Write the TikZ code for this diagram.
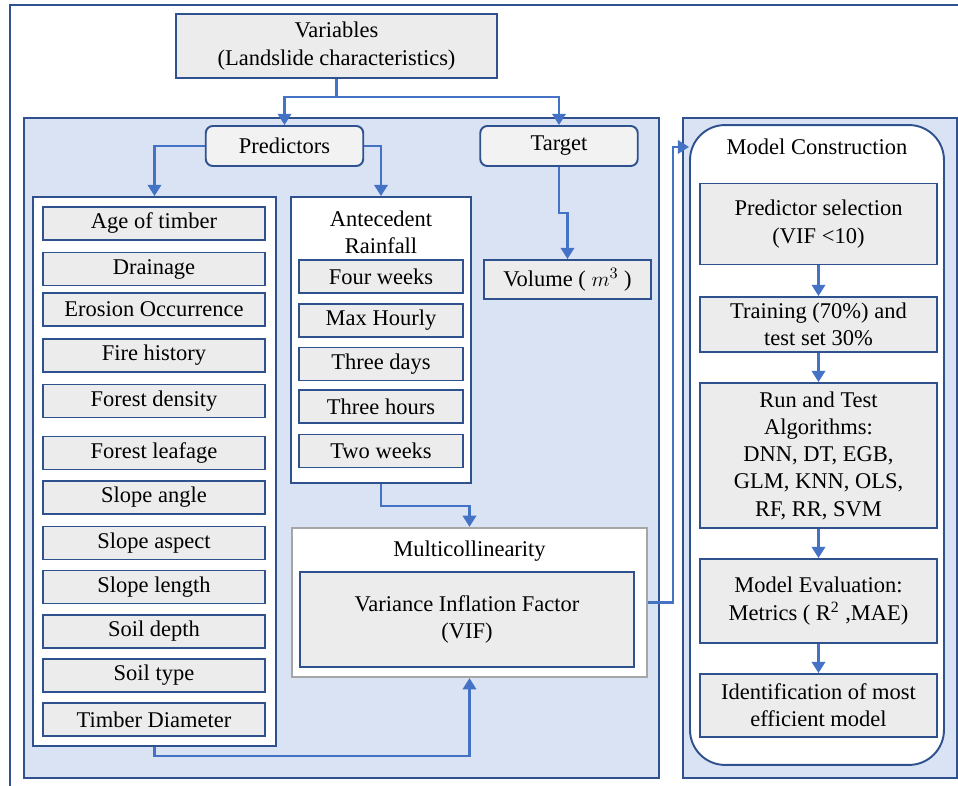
\documentclass[tikz,border=0pt]{standalone}
\usepackage{fontspec}
\setmainfont{Liberation Serif}
\usetikzlibrary{arrows.meta, positioning, calc}

\definecolor{boxblue}{RGB}{47,82,143}
\definecolor{arrowblue}{RGB}{68,114,196}
\definecolor{panelblue}{RGB}{218,227,243}
\definecolor{boxgray}{RGB}{236,236,236}
\definecolor{roundgray}{RGB}{242,242,242}
\definecolor{framegray}{RGB}{166,166,166}

\begin{document}
\begin{tikzpicture}[
    x=0.02cm, y=-0.02cm,
    font=\fontsize{12.8}{15.5}\selectfont,
    box/.style={rectangle, draw=boxblue, line width=1.1pt, fill=boxgray, align=center, inner sep=2pt},
    item/.style={box, minimum width=4.44cm, minimum height=0.66cm},
    rainitem/.style={box, minimum width=3.28cm, minimum height=0.66cm},
    stage/.style={box, minimum width=4.74cm},
    tag/.style={box, fill=roundgray, rounded corners=4pt, minimum width=3.15cm, minimum height=0.8cm},
    holder/.style={rectangle, draw=boxblue, line width=1.1pt, fill=white},
    panel/.style={draw=boxblue, line width=1.1pt, fill=panelblue},
    arrow/.style={-{Triangle[width=7.6pt,length=6.4pt]}, draw=arrowblue, line width=1.5pt}
]
\useasboundingbox (0,0) rectangle (958,786);

% outer frame and panels
\draw[boxblue, line width=0.9pt] (10,800) |- (970,5);
\draw[panel] (24,118) rectangle (659,778);
\draw[panel] (683,118) rectangle (957,778);

\node[box, minimum width=6.42cm, minimum height=1.28cm] (vars) at (336.5,46) {Variables\\(Landslide characteristics)};
\node[tag] (pred) at (284.5,146) {Predictors};
\node[tag] (target) at (559,146) {Target};

% predictor list
\node[holder, minimum width=4.86cm, minimum height=10.98cm] (leftbox) at (154.5,471.5) {};
\node[item] (age) at (154,223.5) {Age of timber};
\node[item] (drain) at (154,269) {Drainage};
\node[item] (erosion) at (154,309.5) {Erosion Occurrence};
\node[item] (fire) at (154,355.5) {Fire history};
\node[item] (density) at (154,401) {Forest density};
\node[item] (leafage) at (154,453) {Forest leafage};
\node[item] (angle) at (154,497.5) {Slope angle};
\node[item] (aspect) at (154,543) {Slope aspect};
\node[item] (length) at (154,587) {Slope length};
\node[item] (depth) at (154,631.5) {Soil depth};
\node[item] (soiltype) at (154,675.5) {Soil type};
\node[item] (diameter) at (154,719.5) {Timber Diameter};

% antecedent rainfall
\node[holder, minimum width=3.6cm, minimum height=5.72cm] (ante) at (381,340) {};
\node[align=center] (antetitle) at (381,232) {Antecedent\\Rainfall};
\node[rainitem] (fourw) at (381,276.5) {Four weeks};
\node[rainitem] (maxh) at (381,320.5) {Max Hourly};
\node[rainitem] (threed) at (381,364) {Three days};
\node[rainitem] (threeh) at (381,406.5) {Three hours};
\node[rainitem] (twow) at (381,451) {Two weeks};

\node[box, minimum width=3.34cm, minimum height=0.78cm] (vol) at (567.5,279.5) {Volume ( $m^3$ )};

% multicollinearity
\node[rectangle, draw=framegray, line width=1.3pt, fill=white, minimum width=7.1cm, minimum height=2.98cm] (mult) at (469.5,602.5) {};
\node (multtitle) at (469.5,551) {Multicollinearity};
\node[box, minimum width=6.68cm, minimum height=1.9cm] (vif) at (467,619.5) {Variance Inflation Factor\\(VIF)};

% model construction
\node[holder, rounded corners=0.7cm, minimum width=5.08cm, minimum height=12.8cm] (mc) at (817,445) {};
\node (mctitle) at (817,147) {Model Construction};
\node[stage, minimum height=1.62cm] (sel) at (818.5,224) {Predictor selection\\(VIF <10)};
\node[stage, minimum height=1.1cm] (train) at (818.5,324.5) {Training (70\%) and\\test set 30\%};
\node[stage, minimum height=2.9cm] (run) at (818.5,455.5) {Run and Test\\Algorithms:\\DNN, DT, EGB,\\GLM, KNN, OLS,\\RF, RR, SVM};
\node[stage, minimum height=1.68cm] (eval) at (818.5,601) {Model Evaluation:\\Metrics ( R\textsuperscript{2} ,MAE)};
\node[stage, minimum height=1.26cm] (ident) at (818.5,705.5) {Identification of most\\efficient model};

\draw[arrow] (vars.south) -- ++(0,18) -| (pred.north);
\draw[arrow] (vars.south) -- ++(0,18) -| (target.north);
\draw[arrow] (pred.west) -| (leftbox.north);
\draw[arrow] (pred.east) -| (ante.north);
\draw[arrow] (target.south) -- ++(0,46) -| (vol.north);
\draw[arrow] (ante.south) -- ++(0,22) -| (mult.north);
\draw[arrow] (leftbox.south) -- ++(0,9) -| (mult.south);
\draw[arrow] (mult.east) -- ++(25,0) |- (mc.west |- mctitle);
\draw[arrow] (sel) -- (train);
\draw[arrow] (train) -- (run);
\draw[arrow] (run) -- (eval);
\draw[arrow] (eval) -- (ident);

\end{tikzpicture}
\end{document}
